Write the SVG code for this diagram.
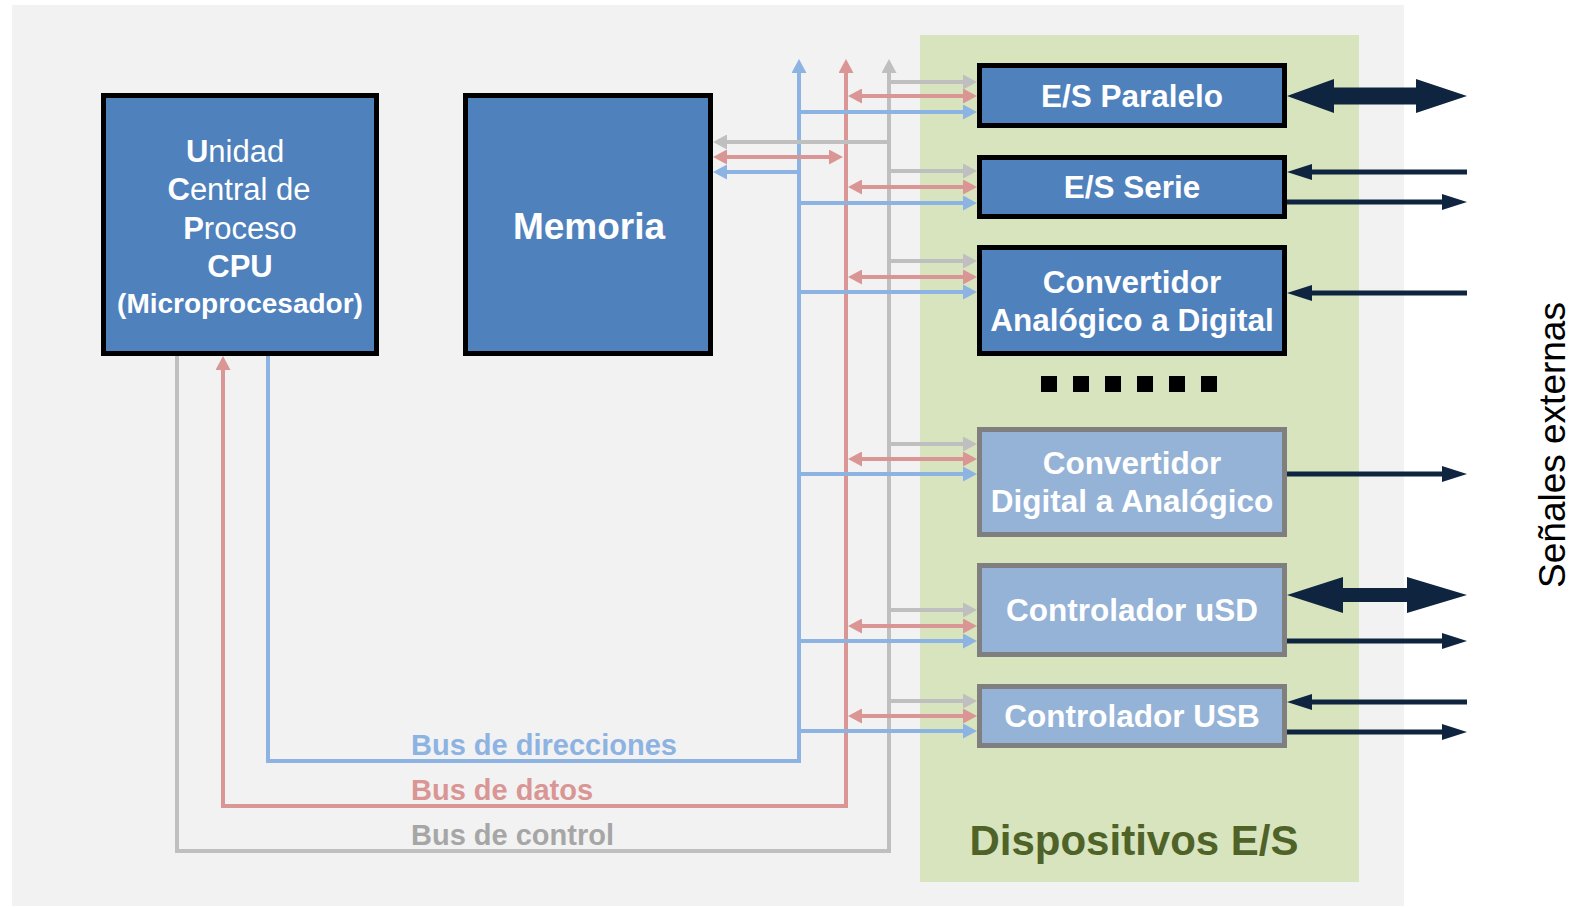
<svg xmlns="http://www.w3.org/2000/svg" width="1578" height="907" viewBox="0 0 1578 907">
  <style>
    .t { font-family: "Liberation Sans", Arial, sans-serif; fill: #ffffff; text-anchor: middle; }
    .b { font-weight: bold; }
    .dark { fill: #4f81bd; stroke: #000000; stroke-width: 5; }
    .light { fill: #95b3d7; stroke: #7f7f7f; stroke-width: 5; }
    .bus { fill: none; stroke-width: 4; stroke-linejoin: miter; }
    .blue { stroke: #8db3e2; }
    .red { stroke: #d99694; }
    .gray { stroke: #bfbfbf; }
    .ext { fill: none; stroke: #0f243e; stroke-width: 5; }
    .lbl { font-family: "Liberation Sans", Arial, sans-serif; font-weight: bold; font-size: 29px; }
  </style>
  <defs>
    <marker id="hb" markerUnits="userSpaceOnUse" viewBox="0 0 14 15" markerWidth="14" markerHeight="15" refX="4" refY="7.5" orient="auto-start-reverse">
      <path d="M0,0L14,7.5L0,15z" fill="#8db3e2"/>
    </marker>
    <marker id="hr" markerUnits="userSpaceOnUse" viewBox="0 0 14 15" markerWidth="14" markerHeight="15" refX="4" refY="7.5" orient="auto-start-reverse">
      <path d="M0,0L14,7.5L0,15z" fill="#d99694"/>
    </marker>
    <marker id="hg" markerUnits="userSpaceOnUse" viewBox="0 0 14 15" markerWidth="14" markerHeight="15" refX="4" refY="7.5" orient="auto-start-reverse">
      <path d="M0,0L14,7.5L0,15z" fill="#bfbfbf"/>
    </marker>
    <marker id="he" markerUnits="userSpaceOnUse" viewBox="0 0 25 16" markerWidth="25" markerHeight="16" refX="5" refY="8" orient="auto-start-reverse">
      <path d="M0,0L25,8L0,16z" fill="#0f243e"/>
    </marker>
  </defs>

  <!-- panels -->
  <rect x="12" y="5" width="1392" height="901" fill="#f2f2f2"/>
  <rect x="920" y="35" width="439" height="847" fill="#d7e4bd"/>

  <!-- buses and links -->
  <g id="connectors">
    <!-- main buses -->
    <path class="bus blue" d="M268,356V761H799V69" marker-end="url(#hb)"/>
    <path class="bus red" d="M846,69V806H223V366" marker-start="url(#hr)" marker-end="url(#hr)"/>
    <path class="bus gray" d="M177,356V851H889V69" marker-end="url(#hg)"/>

    <!-- memory links -->
    <path class="bus gray" d="M889,142H723" marker-end="url(#hg)"/>
    <path class="bus red" d="M723,157H833" marker-start="url(#hr)" marker-end="url(#hr)"/>
    <path class="bus blue" d="M799,172H723" marker-end="url(#hb)"/>

    <!-- E/S Paralelo -->
    <path class="bus gray" d="M889,82H967" marker-end="url(#hg)"/>
    <path class="bus red" d="M858,96H967" marker-start="url(#hr)" marker-end="url(#hr)"/>
    <path class="bus blue" d="M799,112H967" marker-end="url(#hb)"/>
    <!-- E/S Serie -->
    <path class="bus gray" d="M889,171H967" marker-end="url(#hg)"/>
    <path class="bus red" d="M858,187H967" marker-start="url(#hr)" marker-end="url(#hr)"/>
    <path class="bus blue" d="M799,203H967" marker-end="url(#hb)"/>
    <!-- ADC -->
    <path class="bus gray" d="M889,261H967" marker-end="url(#hg)"/>
    <path class="bus red" d="M858,277H967" marker-start="url(#hr)" marker-end="url(#hr)"/>
    <path class="bus blue" d="M799,292H967" marker-end="url(#hb)"/>
    <!-- DAC -->
    <path class="bus gray" d="M889,444H967" marker-end="url(#hg)"/>
    <path class="bus red" d="M858,459H967" marker-start="url(#hr)" marker-end="url(#hr)"/>
    <path class="bus blue" d="M799,474H967" marker-end="url(#hb)"/>
    <!-- uSD -->
    <path class="bus gray" d="M889,610H967" marker-end="url(#hg)"/>
    <path class="bus red" d="M858,626H967" marker-start="url(#hr)" marker-end="url(#hr)"/>
    <path class="bus blue" d="M799,641H967" marker-end="url(#hb)"/>
    <!-- USB -->
    <path class="bus gray" d="M889,701H967" marker-end="url(#hg)"/>
    <path class="bus red" d="M858,716H967" marker-start="url(#hr)" marker-end="url(#hr)"/>
    <path class="bus blue" d="M799,731H967" marker-end="url(#hb)"/>

    <!-- external signals -->
    <polygon fill="#0f243e" points="1287,96 1334,79 1334,87.5 1416,87.5 1416,79 1467,96 1416,113 1416,104.5 1334,104.5 1334,113"/>
    <path class="ext" d="M1467,172H1307" marker-end="url(#he)"/>
    <path class="ext" d="M1287,202H1447" marker-end="url(#he)"/>
    <path class="ext" d="M1467,293H1307" marker-end="url(#he)"/>
    <path class="ext" d="M1287,474H1447" marker-end="url(#he)"/>
    <polygon fill="#0f243e" points="1287,595 1343,577 1343,588 1407,588 1407,577 1467,595 1407,613 1407,602 1343,602 1343,613"/>
    <path class="ext" d="M1287,641H1447" marker-end="url(#he)"/>
    <path class="ext" d="M1467,702H1307" marker-end="url(#he)"/>
    <path class="ext" d="M1287,732H1447" marker-end="url(#he)"/>
  </g>

  <!-- bus labels -->
  <text class="lbl" x="411" y="755" fill="#8db3e2">Bus de direcciones</text>
  <text class="lbl" x="411" y="800" fill="#d99694">Bus de datos</text>
  <text class="lbl" x="411" y="845" fill="#a6a6a6">Bus de control</text>

  <g id="cpu">
    <rect class="dark" x="103.5" y="95.5" width="273" height="258"/>
    <text class="t" x="235" y="162" font-size="31"><tspan class="b">U</tspan>nidad</text>
    <text class="t" x="239" y="200" font-size="31"><tspan class="b">C</tspan>entral de</text>
    <text class="t" x="240" y="239" font-size="31"><tspan class="b">P</tspan>roceso</text>
    <text class="t b" x="240" y="277" font-size="31">CPU</text>
    <text class="t b" x="240" y="313" font-size="28">(Microprocesador)</text>
  </g>

  <g id="memoria">
    <rect class="dark" x="465.5" y="95.5" width="245" height="258"/>
    <text class="t b" x="589" y="239" font-size="37">Memoria</text>
  </g>

  <g id="es-paralelo">
    <rect class="dark" x="979.5" y="65.5" width="305" height="60"/>
    <text class="t b" x="1132" y="107" font-size="31.5">E/S Paralelo</text>
  </g>
  <g id="es-serie">
    <rect class="dark" x="979.5" y="157.5" width="305" height="59"/>
    <text class="t b" x="1132" y="198" font-size="31.5">E/S Serie</text>
  </g>
  <g id="adc">
    <rect class="dark" x="979.5" y="247.5" width="305" height="106"/>
    <text class="t b" x="1132" y="293" font-size="31.5">Convertidor</text>
    <text class="t b" x="1132" y="331" font-size="31.5">Analógico a Digital</text>
  </g>

  <g id="more">
    <rect x="1041" y="376" width="16" height="16" fill="#000"/>
    <rect x="1073" y="376" width="16" height="16" fill="#000"/>
    <rect x="1105" y="376" width="16" height="16" fill="#000"/>
    <rect x="1137" y="376" width="16" height="16" fill="#000"/>
    <rect x="1169" y="376" width="16" height="16" fill="#000"/>
    <rect x="1201" y="376" width="16" height="16" fill="#000"/>
  </g>

  <g id="dac">
    <rect class="light" x="979.5" y="429.5" width="305" height="105"/>
    <text class="t b" x="1132" y="474" font-size="31.5">Convertidor</text>
    <text class="t b" x="1132" y="512" font-size="31.5">Digital a Analógico</text>
  </g>
  <g id="usd">
    <rect class="light" x="979.5" y="565.5" width="305" height="89"/>
    <text class="t b" x="1132" y="621" font-size="31.5">Controlador uSD</text>
  </g>
  <g id="usb">
    <rect class="light" x="979.5" y="686.5" width="305" height="59"/>
    <text class="t b" x="1132" y="727" font-size="31.5">Controlador USB</text>
  </g>

  <text x="1134" y="855" font-family="Liberation Sans, Arial, sans-serif" font-weight="bold" font-size="42" fill="#4f6228" text-anchor="middle">Dispositivos E/S</text>
  <text transform="translate(1565,445) rotate(-90)" font-family="Liberation Sans, Arial, sans-serif" font-size="37" fill="#000" text-anchor="middle">Señales externas</text>
</svg>
